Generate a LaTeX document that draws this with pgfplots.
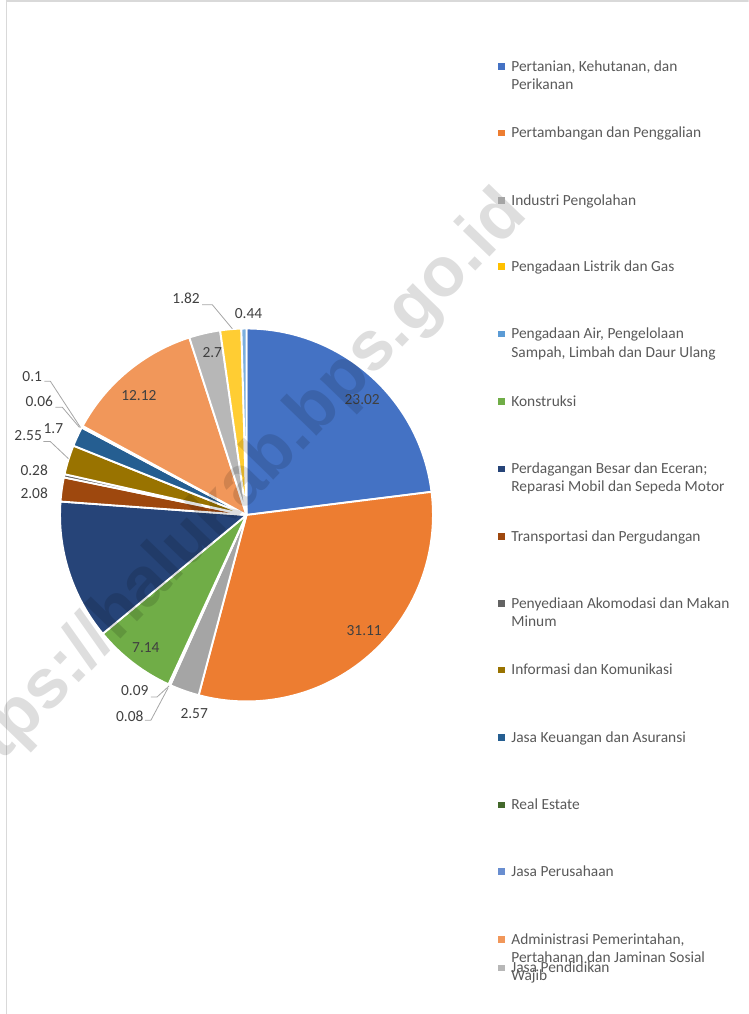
\documentclass[border=0pt]{standalone}
\usepackage{pgfplots}
\pgfplotsset{compat=1.18}
\usepackage{pgfplotstable}
\usepackage{fontspec}
\setmainfont{Carlito}
\newfontfamily\wmfont{Liberation Sans}

\definecolor{slA}{HTML}{4472C4}
\definecolor{slB}{HTML}{ED7D31}
\definecolor{slC}{HTML}{A5A5A5}
\definecolor{slD}{HTML}{FFC000}
\definecolor{slE}{HTML}{5B9BD5}
\definecolor{slF}{HTML}{70AD47}
\definecolor{slG}{HTML}{264478}
\definecolor{slH}{HTML}{9E480E}
\definecolor{slI}{HTML}{636363}
\definecolor{slJ}{HTML}{997300}
\definecolor{slK}{HTML}{255E91}
\definecolor{slL}{HTML}{43682B}
\definecolor{slM}{HTML}{698ED0}
\definecolor{slN}{HTML}{F1975A}
\definecolor{slO}{HTML}{B7B7B7}
\definecolor{slP}{HTML}{FFCD33}
\definecolor{slQ}{HTML}{7CAFDD}
\definecolor{txt}{HTML}{595959}
\definecolor{lbl}{HTML}{404040}
\definecolor{frame}{HTML}{D9D9D9}
\definecolor{lead}{HTML}{A6A6A6}

\tikzset{
  lab/.style={font=\fontsize{11.5}{13}\selectfont,text=lbl,inner sep=0pt},
  leg/.style={font=\fontsize{11.5}{13}\selectfont,text=txt,inner sep=0pt,anchor=base west}}
\pgfplotsset{mk/.style={only marks,mark=square*,mark size=2.1pt}}

% share of each sector (percent), clockwise from 12 o'clock
\pgfplotstableread{
val col
23.02 slA
31.11 slB
2.57 slC
0.08 slD
0.09 slE
7.14 slF
12.14 slG
2.08 slH
0.28 slI
2.55 slJ
1.70 slK
0.06 slL
0.10 slM
12.12 slN
2.70 slO
1.82 slP
0.44 slQ
}\piedata

\begin{document}
\begin{tikzpicture}
\begin{axis}[x=0.75pt,y=0.75pt,xmin=0,xmax=744,ymin=0,ymax=1014,
  hide axis,clip=true,anchor=south west,at={(0,0)}]
% chart area frame
\addplot[draw=frame,line width=1.3pt] coordinates {(6.5,-5) (6.5,1007) (750,1007)};

% pie sectors
\def\startang{90}
\pgfplotsforeachungrouped \i in {0,...,16}{%
  \pgfplotstablegetelem{\i}{val}\of\piedata \let\vv=\pgfplotsretval
  \pgfplotstablegetelem{\i}{col}\of\piedata \let\cc=\pgfplotsretval
  \pgfmathsetmacro\endang{\startang-3.6*\vv}%
  \edef\temp{\noexpand\fill[\cc,draw=white,line width=1.4pt,line join=round]
     (axis cs:245,496) -- ++(\startang:139pt)
     arc[start angle=\startang,end angle=\endang,radius=139pt] -- cycle;}%
  \temp
  \global\let\startang\endang
}

% leader lines
\addplot[draw=lead,line width=0.6pt] coordinates {(201,705) (211,705) (231,681)};
\addplot[draw=lead,line width=0.6pt] coordinates {(44,629) (50,629) (80,583)};
\addplot[draw=lead,line width=0.6pt] coordinates {(55,603) (62,603) (79,583)};
\addplot[draw=lead,line width=0.6pt] coordinates {(43,569) (50,569) (68,552)};
\addplot[draw=lead,line width=0.6pt] coordinates {(150,315) (156,315) (168,326)};
\addplot[draw=lead,line width=0.6pt] coordinates {(144,292) (150,292) (167,324)};

% data labels
\node[lab] at (axis cs:360,611) {23.02};
\node[lab] at (axis cs:362,381) {31.11};
\node[lab] at (axis cs:145,364) {7.14};
\node[lab] at (axis cs:138,615) {12.12};
\node[lab] at (axis cs:211,657) {2.7};
\node[lab] at (axis cs:185,711) {1.82};
\node[lab] at (axis cs:247,696) {0.44};
\node[lab] at (axis cs:32,634) {0.1};
\node[lab] at (axis cs:39,609) {0.06};
\node[lab] at (axis cs:53,582) {1.7};
\node[lab] at (axis cs:28,575) {2.55};
\node[lab] at (axis cs:34,540) {0.28};
\node[lab] at (axis cs:34,518) {2.08};
\node[lab] at (axis cs:134,321) {0.09};
\node[lab] at (axis cs:129,296) {0.08};
\node[lab] at (axis cs:193,299) {2.57};

% legend markers
\addplot[mk,color=slA] coordinates {(498,942)};
\addplot[mk,color=slB] coordinates {(498,876)};
\addplot[mk,color=slC] coordinates {(498,809)};
\addplot[mk,color=slD] coordinates {(498,743)};
\addplot[mk,color=slE] coordinates {(498,676)};
\addplot[mk,color=slF] coordinates {(498,609)};
\addplot[mk,color=slG] coordinates {(498,542)};
\addplot[mk,color=slH] coordinates {(498,475)};
\addplot[mk,color=slI] coordinates {(498,408)};
\addplot[mk,color=slJ] coordinates {(498,342)};
\addplot[mk,color=slK] coordinates {(498,275)};
\addplot[mk,color=slL] coordinates {(498,208)};
\addplot[mk,color=slM] coordinates {(498,142)};
\addplot[mk,color=slN] coordinates {(498,74)};
\addplot[mk,color=slO] coordinates {(498,46)};

% legend texts
\node[leg] at (axis cs:508,937) {Pertanian, Kehutanan, dan};
\node[leg] at (axis cs:508,919) {Perikanan};
\node[leg] at (axis cs:508,871) {Pertambangan dan Penggalian};
\node[leg] at (axis cs:508,804) {Industri Pengolahan};
\node[leg] at (axis cs:508,738) {Pengadaan Listrik dan Gas};
\node[leg] at (axis cs:508,671) {Pengadaan Air, Pengelolaan};
\node[leg] at (axis cs:508,653) {Sampah, Limbah dan Daur Ulang};
\node[leg] at (axis cs:508,604) {Konstruksi};
\node[leg] at (axis cs:508,537) {Perdagangan Besar dan Eceran;};
\node[leg] at (axis cs:508,519) {Reparasi Mobil dan Sepeda Motor};
\node[leg] at (axis cs:508,470) {Transportasi dan Pergudangan};
\node[leg] at (axis cs:508,403) {Penyediaan Akomodasi dan Makan};
\node[leg] at (axis cs:508,385) {Minum};
\node[leg] at (axis cs:508,337) {Informasi dan Komunikasi};
\node[leg] at (axis cs:508,270) {Jasa Keuangan dan Asuransi};
\node[leg] at (axis cs:508,203) {Real Estate};
\node[leg] at (axis cs:508,137) {Jasa Perusahaan};
\node[leg] at (axis cs:508,69) {Administrasi Pemerintahan,};
\node[leg] at (axis cs:508,51) {Pertahanan dan Jaminan Sosial};
\node[leg] at (axis cs:508,33) {Wajib};
\node[leg] at (axis cs:508,41) {Jasa Pendidikan};

% watermark
\node[rotate=46,anchor=base east,opacity=0.13,inner sep=0pt,
  font=\wmfont\bfseries\fontsize{52}{52}\selectfont] at (axis cs:526,793) {https://halukab.bps.go.id};
\end{axis}
\end{tikzpicture}
\end{document}
